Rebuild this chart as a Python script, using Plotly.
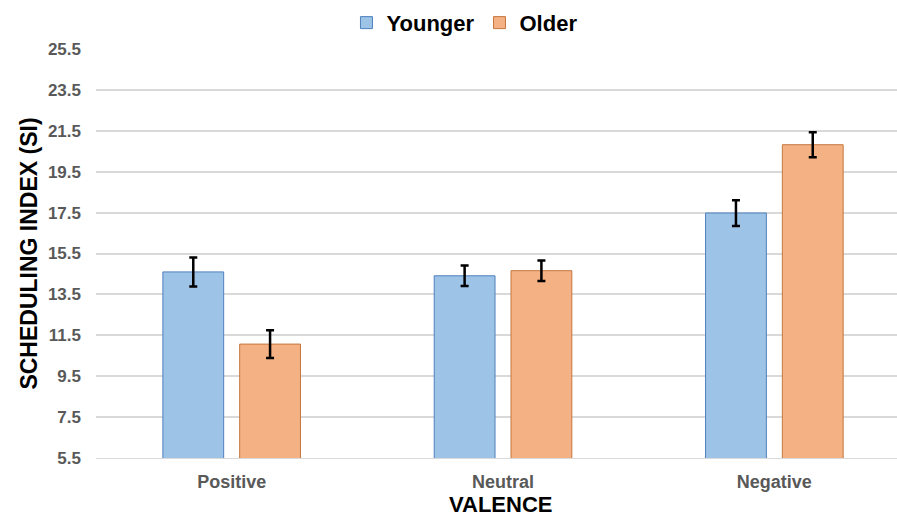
import plotly.graph_objects as go

categories = ["Positive", "Neutral", "Negative"]
younger = [14.6, 14.41, 17.48]
older = [11.07, 14.66, 20.82]
younger_err = [0.71, 0.5, 0.63]
older_err = [0.68, 0.5, 0.61]
y_ticks = [5.5, 7.5, 9.5, 11.5, 13.5, 15.5, 17.5, 19.5, 21.5, 23.5, 25.5]
x_title = "VALENCE"
y_title = "SCHEDULING INDEX (SI)"

FONT = "Arial, Liberation Sans, sans-serif"

fig = go.Figure()
fig.add_trace(go.Bar(
    name="Younger", x=categories, y=younger,
    marker=dict(color="#9DC3E6", line=dict(color="#4F81BD", width=1)),
    error_y=dict(type="data", array=younger_err, color="black", thickness=2.5, width=4),
))
fig.add_trace(go.Bar(
    name="Older", x=categories, y=older,
    marker=dict(color="#F4B183", line=dict(color="#C5773F", width=1)),
    error_y=dict(type="data", array=older_err, color="black", thickness=2.5, width=4),
))

fig.add_annotation(
    text=x_title, xref="paper", yref="paper", x=0.506, y=-0.113,
    xanchor="center", yanchor="middle", showarrow=False, borderpad=0,
    font=dict(family=FONT, size=22, color="black", weight="bold"),
)

fig.update_layout(
    width=897, height=516,
    margin=dict(l=96, r=0, t=49, b=58),
    paper_bgcolor="white", plot_bgcolor="white",
    barmode="group", bargap=0.434, bargroupgap=0.208,
    font=dict(family=FONT),
    legend=dict(
        orientation="h", x=0.46, xanchor="center", y=1.064, yanchor="middle",
        font=dict(family=FONT, size=22, color="black", weight="bold"),
        itemwidth=30, traceorder="normal",
    ),
    xaxis=dict(
        range=[-0.5, 2.452], automargin=False,
        showgrid=False, zeroline=False,
        showline=True, linecolor="#D9D9D9", linewidth=1,
        ticklabelstandoff=7,
        tickfont=dict(family=FONT, size=18, color="#595959", weight="bold"),
    ),
    yaxis=dict(
        range=[5.5, 25.5], automargin=False,
        tickvals=y_ticks, tickformat=".1f",
        showgrid=True, gridcolor="#D9D9D9", gridwidth=1.5,
        zeroline=False, showline=False,
        ticklabelstandoff=14,
        tickfont=dict(family=FONT, size=17, color="#595959", weight="bold"),
        title=dict(text=y_title, font=dict(family=FONT, size=23, color="black", weight="bold"), standoff=3),
    ),
)

fig.write_html(
    "out.html",
    config={"displayModeBar": False},
    post_script="document.body.style.margin='0';document.body.style.overflow='hidden';",
)
